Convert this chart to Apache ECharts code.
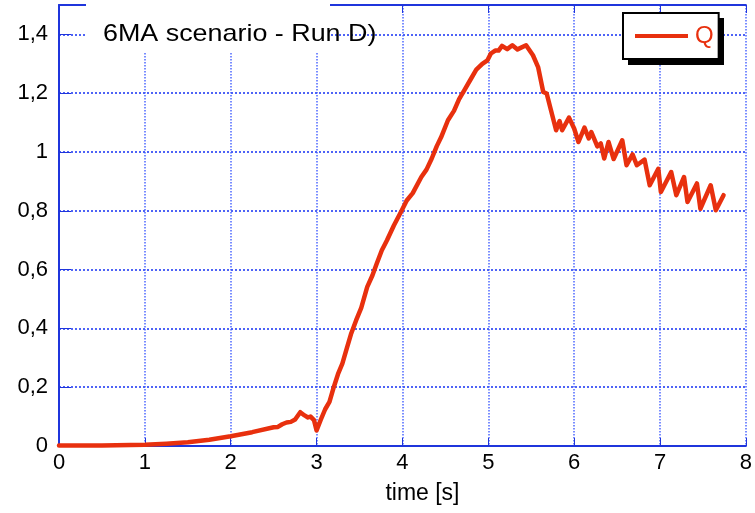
<!DOCTYPE html>
<html>
<head>
<meta charset="utf-8">
<script src="https://cdn.jsdelivr.net/npm/echarts@6/dist/echarts.min.js"></script>
<style>
html,body{margin:0;padding:0;background:#fff;}
#chart{width:755px;height:513px;}
</style>
</head>
<body>
<div id="chart"></div>
<script>
// Data
const timeValues = [0, 0.5, 1.0, 1.25, 1.5, 1.75, 2.0, 2.25, 2.5, 2.55, 2.6, 2.65, 2.7, 2.75, 2.81, 2.86, 2.9, 2.93, 2.97, 3.0,
  3.05, 3.1, 3.15, 3.2, 3.25, 3.3, 3.35, 3.4, 3.46, 3.52, 3.59, 3.65, 3.7, 3.76, 3.82, 3.9, 3.99, 4.05, 4.12, 4.22,
  4.28, 4.34, 4.4, 4.45, 4.53, 4.6, 4.66, 4.72, 4.8, 4.86, 4.93, 4.99, 5.03, 5.08, 5.12, 5.16, 5.22, 5.28, 5.34, 5.44,
  5.52, 5.58, 5.64, 5.68, 5.73, 5.79, 5.83, 5.86, 5.94, 6.0, 6.05, 6.12, 6.17, 6.2, 6.27, 6.31, 6.35, 6.4, 6.46, 6.56,
  6.61, 6.68, 6.73, 6.82, 6.88, 6.98, 7.01, 7.13, 7.19, 7.28, 7.32, 7.43, 7.47, 7.59, 7.65, 7.74];
const qValues = [0.002, 0.002, 0.004, 0.008, 0.013, 0.021, 0.033, 0.047, 0.064, 0.065, 0.074, 0.08, 0.082, 0.09, 0.115, 0.104, 0.097, 0.1, 0.088, 0.053,
  0.09, 0.125, 0.15, 0.2, 0.245, 0.28, 0.33, 0.38, 0.427, 0.47, 0.541, 0.58, 0.62, 0.666, 0.7, 0.75, 0.8, 0.835, 0.86, 0.915,
  0.94, 0.977, 1.02, 1.05, 1.108, 1.14, 1.18, 1.21, 1.25, 1.28, 1.3, 1.312, 1.335, 1.345, 1.345, 1.361, 1.35, 1.363, 1.349, 1.363,
  1.329, 1.289, 1.204, 1.199, 1.142, 1.074, 1.105, 1.074, 1.117, 1.08, 1.034, 1.083, 1.046, 1.068, 1.019, 1.029, 0.978, 1.034, 0.976, 1.04,
  0.955, 0.992, 0.955, 0.974, 0.887, 0.943, 0.864, 0.932, 0.853, 0.915, 0.83, 0.893, 0.807, 0.887, 0.802, 0.853];
const yTickValues = [0, 0.2, 0.4, 0.6, 0.8, 1.0, 1.2, 1.4];
const yTickLabels = ['0', '0,2', '0,4', '0,6', '0,8', '1', '1,2', '1,4'];
const xTickLabels = ['0', '1', '2', '3', '4', '5', '6', '7', '8'];
const seriesName = 'Q';
const titleText = '6MA scenario - Run D)';
const xAxisName = 'time [s]';

const points = timeValues.map((t, i) => [t, qValues[i]]);
const BLUE = '#1f35dc';
const GRID_BLUE = '#2f48f5';
const RED = '#e8300e';
const FONT = '"Liberation Sans", Helvetica, Arial, sans-serif';

const chart = echarts.init(document.getElementById('chart'), null, {renderer: 'canvas'});
chart.setOption({
  animation: false,
  backgroundColor: '#ffffff',
  grid: {left: 59, top: 5, width: 697, height: 441, containLabel: false},
  legend: {
    data: [seriesName],
    left: 623, top: 13, z: 10,
    icon: 'rect', itemWidth: 53, itemHeight: 4,
    padding: [11, 5, 11, 12],
    backgroundColor: '#ffffff',
    borderColor: '#000000', borderWidth: 2,
    textStyle: {color: RED, fontSize: 24, fontFamily: FONT, padding: [0, 0, 0, 2]},
    selectedMode: false
  },
  xAxis: [{
    type: 'value', min: 0, max: 8, interval: 1, position: 'bottom',
    name: xAxisName, nameLocation: 'middle', nameGap: 36,
    nameTextStyle: {color: '#000', fontSize: 23, fontFamily: FONT, padding: [0, 0, 0, 40]},
    axisLine: {show: true, lineStyle: {color: BLUE, width: 2}},
    axisTick: {show: true, inside: true, length: 8, lineStyle: {color: BLUE, width: 1}},
    axisLabel: {color: '#000', fontSize: 22, fontFamily: FONT, margin: 6,
      formatter: v => xTickLabels[Math.round(v)] },
    splitLine: {show: true, lineStyle: {color: '#3a58ff', width: 1.5, type: [1.5, 1.5], opacity: 0.9}}
  }, {
    type: 'value', min: 0, max: 8, interval: 1, position: 'top',
    axisLine: {show: true, lineStyle: {color: BLUE, width: 2}},
    axisTick: {show: true, inside: true, length: 8, lineStyle: {color: BLUE, width: 1}},
    axisLabel: {show: false},
    splitLine: {show: false}
  }],
  yAxis: {
    type: 'value', min: 0, max: 1.5, interval: 0.2,
    axisLine: {show: true, lineStyle: {color: BLUE, width: 2}},
    axisTick: {show: true, inside: true, length: 12, lineStyle: {color: BLUE, width: 1}},
    axisLabel: {color: '#000', fontSize: 22, fontFamily: FONT, margin: 11, showMaxLabel: false,
      formatter: v => {
        const idx = yTickValues.findIndex(t => Math.abs(t - v) < 1e-6);
        return idx >= 0 ? yTickLabels[idx] : '';
      }},
    splitLine: {show: true, lineStyle: {color: GRID_BLUE, width: 2, type: 'dotted', opacity: 0.85}}
  },
  graphic: [
    {type: 'rect', left: 86, top: 0, z: 100, shape: {width: 244, height: 52}, style: {fill: '#ffffff'}},
    {type: 'text', left: 103, top: 22, z: 101, scaleX: 1.12,
      style: {text: titleText, font: '24px ' + FONT, fill: '#000'}},
    {type: 'rect', left: 628, top: 18, z: 1, shape: {width: 96, height: 47}, style: {fill: '#000000'}}
  ],
  series: [{
    name: seriesName, type: 'line', data: points, xAxisIndex: 0,
    showSymbol: false, symbol: 'none',
    lineStyle: {color: RED, width: 4.5, join: 'round', cap: 'round'},
    itemStyle: {color: RED},
    z: 5
  }]
});
</script>
</body>
</html>
